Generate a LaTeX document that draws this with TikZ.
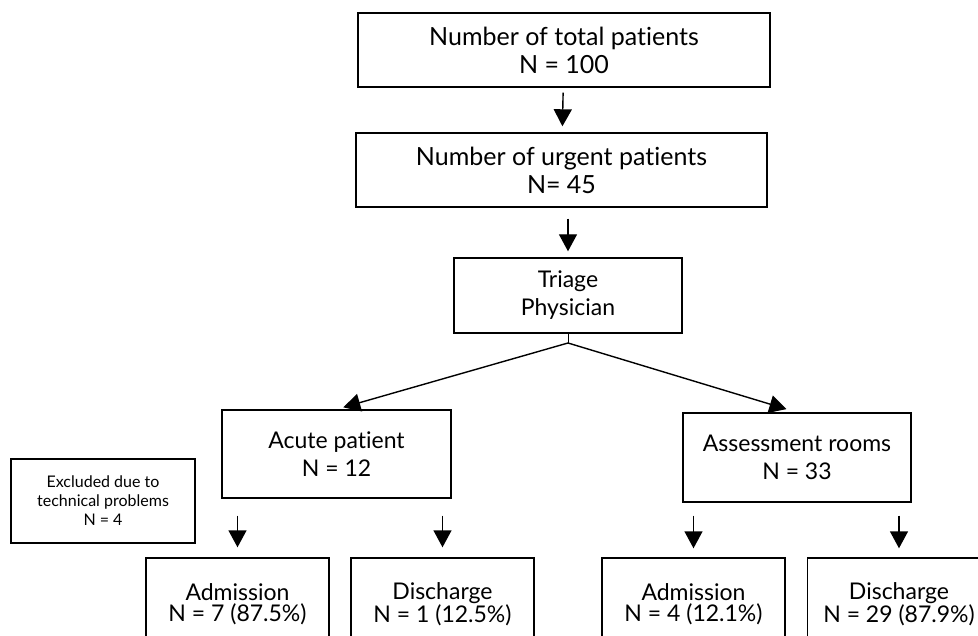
\documentclass[tikz,border=0pt]{standalone}
\usepackage{fontspec}
\setmainfont{Lato}[Ligatures=NoCommon]
\usetikzlibrary{arrows.meta,positioning}

\begin{document}
\begin{tikzpicture}[x=1pt,y=-1pt,
  box/.style={draw,line width=1.4pt,align=center,inner sep=0pt,
    font=\fontsize{23}{28}\selectfont},
  big/.style={box,font=\fontsize{25}{28}\selectfont},
  leaf/.style={box,minimum width=183pt,minimum height=92pt,
    font=\fontsize{23}{21}\selectfont},
  arr/.style={-{Triangle[length=17pt,width=18pt]},line width=1.4pt}]
\clip (0,0) rectangle (978,636);

\node[big,minimum width=412pt,minimum height=74pt] (total) at (564,50) {Number of total patients\\N = 100};
\node[big,minimum width=411pt,minimum height=74pt] (urgent) at (561.5,170) {Number of urgent patients\\N= 45};
\node[box,minimum width=228pt,minimum height=75pt] (triage) at (568,295.5) {Triage\\Physician};
\coordinate (split) at (568,343);

\node[box,minimum width=229pt,minimum height=88pt] (acute) at (336.5,454) {Acute patient\\N = 12};
\node[box,minimum width=228pt,minimum height=89pt] (assess) at (797,457.5) {Assessment rooms\\N = 33};
\node[box,minimum width=184pt,minimum height=84pt,font=\fontsize{16}{19}\selectfont] (excl) at (103,501) {Excluded due to\\technical problems\\N = 4};

\node[leaf] (adm1) at (237.5,604) {Admission\\N = 7 (87.5\%)};
\node[leaf] (dis1) at (442.5,604) {Discharge\\N = 1 (12.5\%)};
\node[leaf] (adm2) at (693.5,604) {Admission\\N = 4 (12.1\%)};
\node[leaf] (dis2) at (899,604) {Discharge\\N = 29 (87.9\%)};

\draw[arr,shorten <=5pt,shorten >=6pt] (total) -- (urgent);
\draw[arr,shorten <=11pt,shorten >=6pt] (urgent.south -| triage) -- (triage);
\draw (triage.south) -- (split);
\draw[arr,shorten >=7pt] (split) -- (acute.north);
\draw[arr,shorten >=11pt] (split) -- (assess.north);

\draw[arr,shorten <=17pt,shorten >=10pt] (adm1.north |- acute.south) -- (adm1.north);
\draw[arr,shorten <=17pt,shorten >=10pt] (dis1.north |- acute.south) -- (dis1.north);
\draw[arr,shorten <=13pt,shorten >=9pt] (adm2.north |- assess.south) -- (adm2.north);
\draw[arr,shorten <=13pt,shorten >=9pt] (dis2.north |- assess.south) -- (dis2.north);
\end{tikzpicture}
\end{document}
